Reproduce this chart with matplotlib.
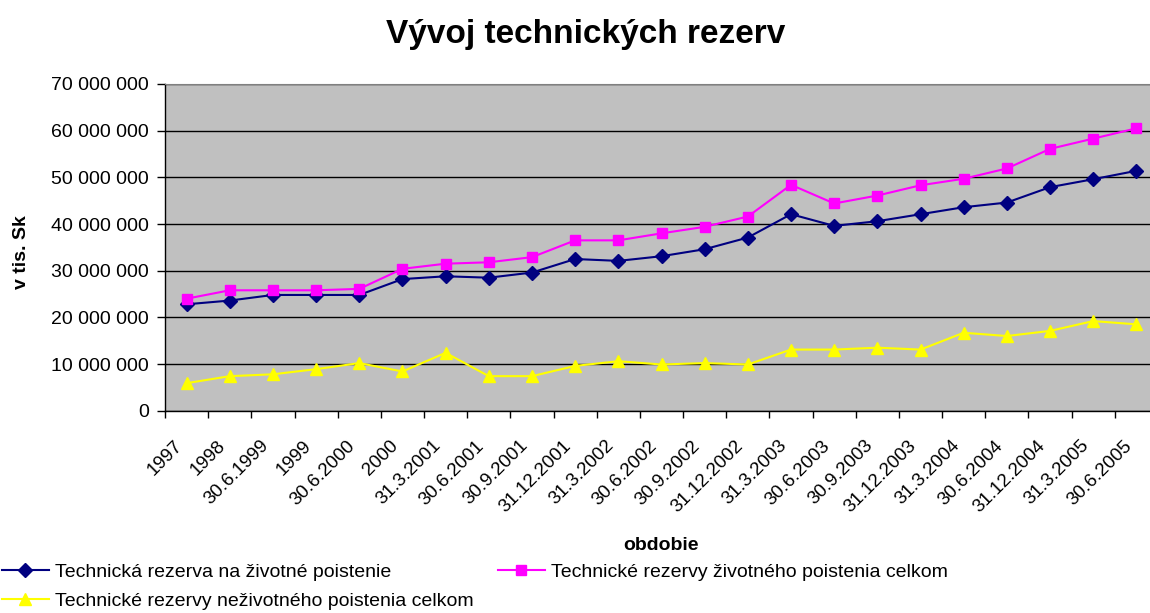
import matplotlib
matplotlib.use("Agg")
import matplotlib.pyplot as plt
from matplotlib.ticker import FuncFormatter, MultipleLocator
from matplotlib.transforms import ScaledTranslation

categories = ["1997", "1998", "30.6.1999", "1999", "30.6.2000", "2000", "31.3.2001",
              "30.6.2001", "30.9.2001", "31.12.2001", "31.3.2002", "30.6.2002",
              "30.9.2002", "31.12.2002", "31.3.2003", "30.6.2003", "30.9.2003",
              "31.12.2003", "31.3.2004", "30.6.2004", "31.12.2004", "31.3.2005", "30.6.2005"]

zivotne = [22.8, 23.6, 24.8, 24.8, 24.8, 28.2, 28.8, 28.5, 29.6, 32.5, 32.1, 33.1,
           34.6, 37.1, 42.1, 39.6, 40.6, 42.1, 43.6, 44.6, 47.9, 49.6, 51.4]
zivotne_celkom = [24.0, 25.8, 25.8, 25.8, 26.1, 30.4, 31.5, 31.8, 32.9, 36.5, 36.5, 38.0,
                  39.4, 41.6, 48.4, 44.4, 46.1, 48.3, 49.7, 51.9, 56.1, 58.3, 60.5]
nezivotne_celkom = [5.9, 7.4, 7.8, 8.9, 10.2, 8.4, 12.4, 7.4, 7.4, 9.6, 10.6, 9.9,
                    10.2, 9.9, 13.1, 13.1, 13.5, 13.1, 16.7, 16.0, 17.1, 19.2, 18.5]

series_names = ["Technická rezerva na životné poistenie",
                "Technické rezervy životného poistenia celkom",
                "Technické rezervy neživotného poistenia celkom"]

plt.rcParams['font.family'] = ['Liberation Sans', 'DejaVu Sans']

W, H = 1150, 613
fig = plt.figure(figsize=(W / 100, H / 100), dpi=100)
ax = fig.add_axes([165 / W, 1 - 410.7 / H, (1158 - 165) / W, (410.7 - 84) / H])
ax.set_facecolor("#C0C0C0")

x = list(range(len(categories)))
scale = 1_000_000
l1, = ax.plot(x, [v * scale for v in zivotne], color="#000080", lw=1.5,
              marker="D", markersize=7, markerfacecolor="#000080", markeredgecolor="#000080")
l2, = ax.plot(x, [v * scale for v in zivotne_celkom], color="#FF00FF", lw=1.5,
              marker="s", markersize=7.5, markerfacecolor="#FF00FF", markeredgecolor="#FF00FF")
l3, = ax.plot(x, [v * scale for v in nezivotne_celkom], color="#FFFF00", lw=1.5,
              marker="^", markersize=9, markerfacecolor="#FFFF00", markeredgecolor="#FFFF00")

ax.set_xlim(-0.5, len(categories) - 0.5)
ax.set_ylim(0, 70_000_000)
ax.yaxis.set_major_locator(MultipleLocator(10_000_000))
ax.yaxis.set_major_formatter(FuncFormatter(lambda v, p: f"{int(v):,}".replace(",", " ")))
ax.grid(axis="y", color="#000000", lw=1.0)
ax.set_axisbelow(True)

ax.set_xticks(x)
ax.set_xticklabels(categories, rotation=45, ha="right", va="top",
                   rotation_mode="anchor", fontsize=13.5)
ax.set_xticks([i - 0.5 for i in range(len(categories) + 1)], minor=True)
ax.tick_params(axis="x", which="major", length=0, pad=19)
ax.tick_params(axis="x", which="minor", length=5, width=1, color="black", direction="out")
ax.tick_params(axis="y", length=5.5, width=1, labelsize=14, direction="out", pad=6)
shift = ScaledTranslation(-13 / 100, 0, fig.dpi_scale_trans)
for lab in ax.get_xticklabels():
    lab.set_transform(lab.get_transform() + shift)

for s in ["left", "bottom"]:
    ax.spines[s].set_color("black")
    ax.spines[s].set_linewidth(1.0)
ax.spines["top"].set_color("#808080")
ax.spines["right"].set_color("#808080")

fig.text(586 / W, 1 - 43 / H, "Vývoj technických rezerv", ha="center", va="baseline",
         fontsize=24, fontweight="bold")
fig.text(21 / W, 1 - 252 / H, "v tis. Sk", rotation=90, ha="center", va="center",
         fontsize=14, fontweight="bold")
fig.text(661 / W, 1 - 545 / H, "obdobie", ha="center", va="center",
         fontsize=14, fontweight="bold")

leg_kw = dict(frameon=False, fontsize=14, handlelength=2.4, handletextpad=0.35,
              borderaxespad=0, borderpad=0, labelspacing=0.62)
leg1 = fig.legend([l1, l3], [series_names[0], series_names[2]], loc="upper left",
                  bbox_to_anchor=(2 / W, 1 - 563 / H), **leg_kw)
leg2 = fig.legend([l2], [series_names[1]], loc="upper left",
                  bbox_to_anchor=(498 / W, 1 - 563 / H), **leg_kw)

fig.savefig("out.png", dpi=100)
